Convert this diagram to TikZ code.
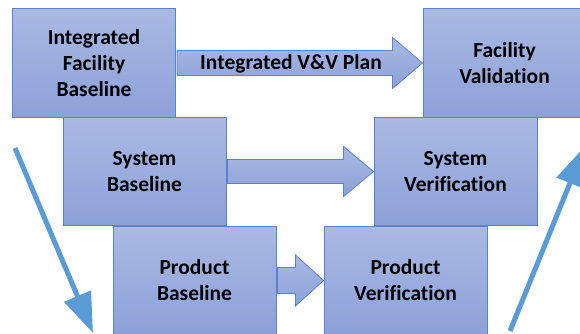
\documentclass[tikz,border=0pt]{standalone}
\usepackage{fontspec}
\setmainfont[Ligatures={NoCommon}]{Carlito}
\usetikzlibrary{arrows.meta,calc}
\definecolor{boxtop}{HTML}{AAB9E3}
\definecolor{boxbot}{HTML}{8CA1D8}
\definecolor{boxline}{HTML}{5B80D0}
\definecolor{vline}{HTML}{5B9BD5}
\tikzset{
  stagebox/.style={rectangle, draw=boxline, line width=1pt, top color=boxtop, bottom color=boxbot,
    minimum width=163pt, minimum height=108pt, inner sep=0pt, align=center,
    font=\fontsize{21.5}{26}\selectfont\bfseries},
  blockarr/.style={draw=boxline, line width=0.8pt, top color=boxtop, bottom color=boxbot},
  vee/.style={draw=vline, line width=5pt, -{Triangle[length=40pt,width=28pt]}},
  arrlabel/.style={font=\fontsize{21.5}{26}\selectfont\bfseries, inner sep=0pt}
}
\newcommand{\fatarrow}[5]{% from, to, half shaft, half head, head length
  \path let \p1=(#1.east), \p2=(#2.west) in [blockarr]
    (\x1+1pt,\y2+#3) -- (\x2-#5,\y2+#3) -- (\x2-#5,\y2+#4) -- (\x2,\y2)
    -- (\x2-#5,\y2-#4) -- (\x2-#5,\y2-#3) -- (\x1+1pt,\y2-#3) -- cycle;
}
\begin{document}
\begin{tikzpicture}[x=1pt,y=-1pt]
\useasboundingbox (0,0) rectangle (580,334);
\begin{scope}
\clip (0,0) rectangle (580,334);
\node[stagebox] (ifb) at (94,63) {Integrated\\Facility\\Baseline};
\node[stagebox] (fv) at (504.5,63) {Facility\\Validation};
\node[stagebox] (sb) at (144.5,171.5) {System\\Baseline};
\node[stagebox] (sv) at (455.5,171.5) {System\\Verification};
\node[stagebox] (pb) at (194.5,280.5) {Product\\Baseline};
\node[stagebox] (pv) at (405.5,280.5) {Product\\Verification};
\fatarrow{ifb}{fv}{12.5pt}{25.5pt}{30pt}
\fatarrow{sb}{sv}{12pt}{25pt}{30pt}
\fatarrow{pb}{pv}{13pt}{25.5pt}{28pt}
\node[arrlabel] (plan) at (291,64) {Integrated V\&V Plan};
\coordinate (l1s) at (15,148);
\coordinate (l1e) at (93,333);
\coordinate (l2s) at (510,331);
\coordinate (l2e) at (585,146);
\draw[vee] (l1s) -- (l1e);
\draw[vee] (l2s) -- (l2e);
\end{scope}
\end{tikzpicture}
\end{document}
